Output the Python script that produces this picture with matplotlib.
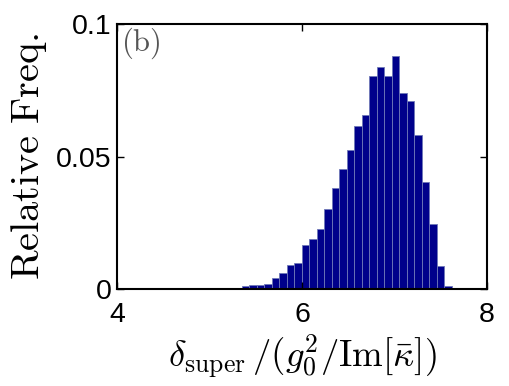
import numpy as np
import matplotlib
matplotlib.use("Agg")
import matplotlib.pyplot as plt

plt.rcParams['mathtext.fontset'] = 'cm'
plt.rcParams['font.family'] = ['Liberation Sans', 'DejaVu Sans']

# histogram: 29 equal bins between these limits
bin_lo, bin_hi = 5.267, 7.622
rel_freq = [0.0005, 0.0014, 0.0015, 0.0016, 0.0020, 0.0044, 0.0063, 0.0092,
            0.0101, 0.0166, 0.0188, 0.0226, 0.0302, 0.0381, 0.0454, 0.0526,
            0.0614, 0.0656, 0.0803, 0.0839, 0.0805, 0.0881, 0.0741, 0.0710,
            0.0583, 0.0405, 0.0246, 0.0087, 0.0013]
xticks = [4, 6, 8]
yticks = [0, 0.05, 0.1]
ytick_labels = ["0", "0.05", "0.1"]

edges = np.linspace(bin_lo, bin_hi, len(rel_freq) + 1)

fig = plt.figure(figsize=(5.09, 3.86), dpi=100)
ax = fig.add_axes([0.2305, 0.2505, 0.7255, 0.6873])
ax.bar(edges[:-1], rel_freq, width=np.diff(edges), align='edge',
       color='#00008b', edgecolor='#6f78b8', linewidth=0.6)

ax.set_xlim(4, 8)
ax.set_ylim(0, 0.1)
ax.set_xticks(xticks)
ax.set_yticks(yticks)
ax.set_yticklabels(ytick_labels)
ax.tick_params(direction='in', length=5, width=1, top=True, right=True,
               labelsize=20.5)
ax.tick_params(axis='y', pad=4)
ax.tick_params(axis='x', pad=9)
for s in ax.spines.values():
    s.set_linewidth(1.5)

ax.set_ylabel(r'$\mathrm{Relative\ Freq.}$', fontsize=29, labelpad=5)
ax.set_xlabel(r'$\delta_{\rm super}\,/(g_0^2/\mathrm{Im}[\bar\kappa])$',
              fontsize=26.5, labelpad=3)
ax.text(0.01, 0.995, r'$\mathrm{(b)}$', transform=ax.transAxes, ha='left',
        va='top', fontsize=22, color='#555555')

fig.savefig('out.png', dpi=100)
